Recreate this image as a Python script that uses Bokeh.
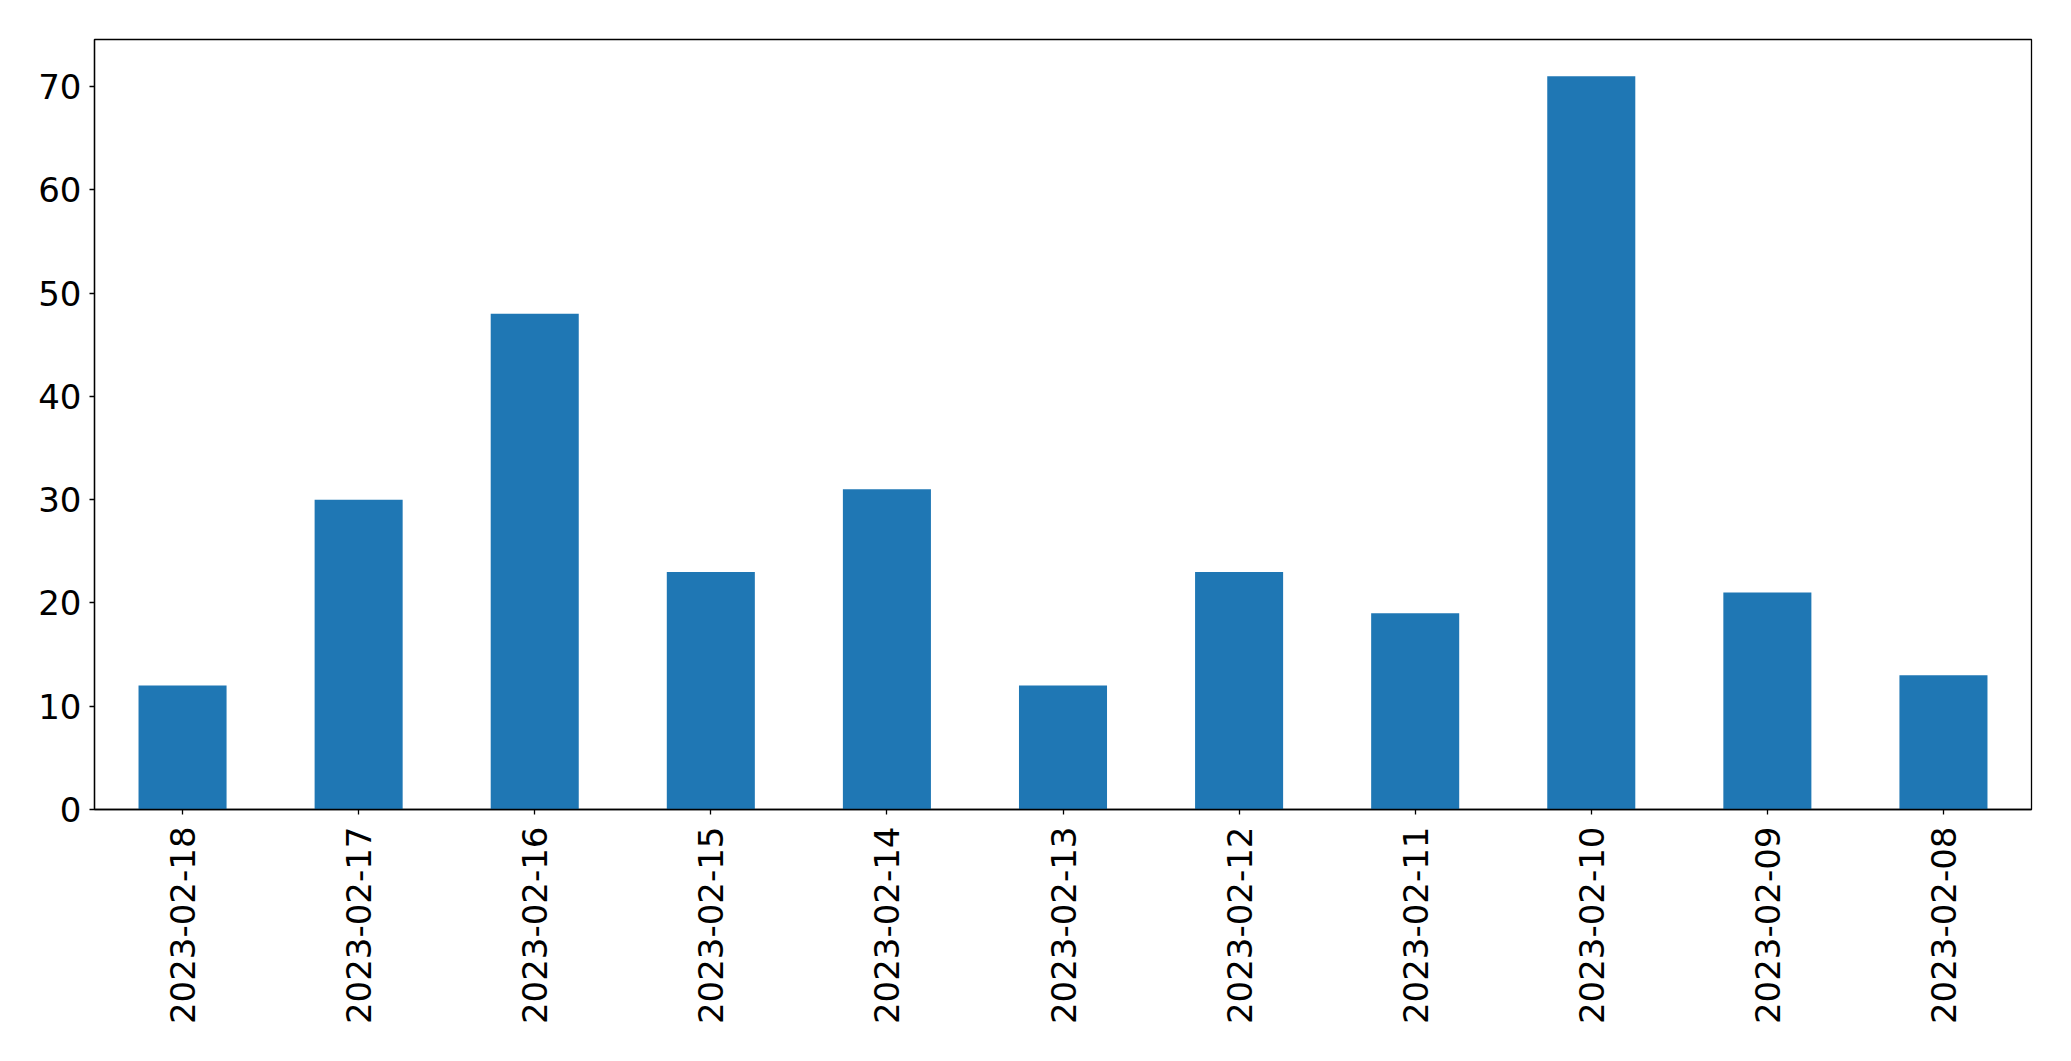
import math
from bokeh.plotting import figure
from bokeh.models import FactorRange, Range1d, ColumnDataSource, FixedTicker
from bokeh.embed import file_html
from bokeh.resources import INLINE

dates = ["2023-02-18", "2023-02-17", "2023-02-16", "2023-02-15", "2023-02-14",
         "2023-02-13", "2023-02-12", "2023-02-11", "2023-02-10", "2023-02-09",
         "2023-02-08"]
counts = [12, 30, 48, 23, 31, 12, 23, 19, 71, 21, 13]
y_ticks = [0, 10, 20, 30, 40, 50, 60, 70]

src = ColumnDataSource(dict(x=dates, y=counts))

p = figure(x_range=FactorRange(*dates), y_range=Range1d(0, max(counts) * 1.05),
           width=2055, height=1045, output_backend="svg", toolbar_location=None,
           min_border_left=94, min_border_top=39, min_border_right=24, min_border_bottom=30)
p.frame_width = 1937
p.frame_height = 770

p.vbar(x="x", top="y", width=0.5, source=src, fill_color="#1f77b4", line_color=None)

p.xgrid.visible = False
p.ygrid.visible = False
p.outline_line_color = "black"
p.outline_line_width = 1.3
p.outline_line_alpha = 1
p.background_fill_color = "white"
p.border_fill_color = "white"

for ax in (p.xaxis[0], p.yaxis[0]):
    ax.axis_line_color = "black"
    ax.axis_line_width = 1.3
    ax.major_tick_line_color = "black"
    ax.major_tick_line_width = 1.3
    ax.major_tick_out = 5
    ax.major_tick_in = 0
    ax.minor_tick_line_color = None
    ax.major_label_text_font = "DejaVu Sans"
    ax.major_label_text_font_size = "34px"
    ax.major_label_text_color = "black"

p.yaxis.ticker = FixedTicker(ticks=y_ticks)
p.yaxis.major_label_standoff = 8
p.xaxis.major_label_orientation = math.pi / 2
p.xaxis.major_label_standoff = 12

open("out.html", "w").write(file_html(p, INLINE))
